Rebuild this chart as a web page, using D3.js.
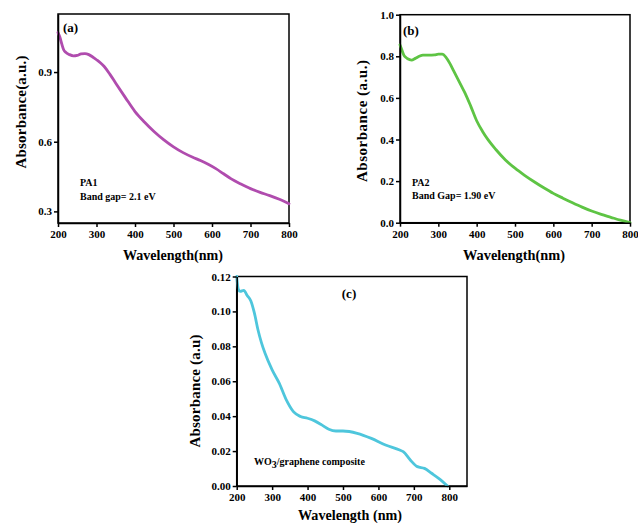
<!DOCTYPE html>
<html><head><meta charset="utf-8">
<script src="https://cdn.jsdelivr.net/npm/d3@7"></script>
<style>
html,body{margin:0;padding:0;background:#fff;}
svg{display:block;font-family:"Liberation Serif","Times New Roman",serif;font-weight:bold;}
</style></head>
<body>
<svg id="chart" width="638" height="523"></svg>
<script>
// ---- Data ----
const wavelengthA = [200,205,210,215,220,230,240,250,260,270,280,290,300,310,320,335,350,375,400,425,450,475,500,525,550,570,590,610,630,650,675,700,725,750,775,800];
const absorbanceA = [1.07,1.05,1.02,0.995,0.985,0.975,0.97,0.972,0.978,0.979,0.975,0.965,0.953,0.94,0.924,0.89,0.852,0.79,0.73,0.684,0.643,0.608,0.578,0.553,0.533,0.519,0.503,0.484,0.462,0.44,0.418,0.398,0.382,0.368,0.352,0.333];

const wavelengthB = [200,205,210,215,220,230,240,250,260,275,290,300,310,320,330,340,350,360,370,385,400,415,430,450,475,500,525,550,575,600,625,650,675,700,725,750,775,800];
const absorbanceB = [0.855,0.83,0.806,0.795,0.788,0.782,0.79,0.8,0.806,0.806,0.807,0.81,0.81,0.795,0.766,0.73,0.694,0.658,0.622,0.558,0.49,0.44,0.398,0.352,0.302,0.262,0.228,0.197,0.168,0.141,0.118,0.096,0.075,0.056,0.04,0.026,0.012,0.0];

const wavelengthC = [200,205,210,220,230,240,250,260,270,280,300,320,340,360,380,400,420,440,460,480,500,540,580,620,660,670,690,710,730,750,770,795];
const absorbanceC = [0.12,0.1124,0.1115,0.112,0.109,0.106,0.099,0.0895,0.082,0.076,0.0665,0.0589,0.0493,0.0426,0.0398,0.0388,0.0373,0.035,0.0325,0.0315,0.0315,0.0302,0.0273,0.0235,0.0206,0.0197,0.0149,0.0111,0.0101,0.0073,0.0044,0.0];

const xTicks = [200,300,400,500,600,700,800];
const yTicksA = [0.3,0.6,0.9];
const yTicksB = [0.0,0.2,0.4,0.6,0.8,1.0];
const yTicksC = [0.00,0.02,0.04,0.06,0.08,0.10,0.12];

const svg = d3.select("#chart");
const FONT = "'Liberation Serif', 'Times New Roman', serif";

function panel(cfg){
  const x = d3.scaleLinear().domain(cfg.xDomain).range([cfg.left, cfg.right]);
  const y = d3.scaleLinear().domain(cfg.yDomain).range([cfg.bottom, cfg.top]);
  const g = svg.append("g").attr("font-family",FONT).attr("font-weight","bold");
  g.append("rect").attr("x",cfg.left).attr("y",cfg.top)
    .attr("width",cfg.right-cfg.left).attr("height",cfg.bottom-cfg.top)
    .attr("fill","none").attr("stroke","#000").attr("stroke-width",1.5);
  const line = d3.line().x((d,i)=>x(cfg.xs[i])).y(d=>y(d)).curve(d3.curveMonotoneX);
  g.append("path").datum(cfg.ys).attr("d",line)
    .attr("fill","none").attr("stroke",cfg.color).attr("stroke-width",2.8)
    .attr("stroke-linejoin","round").attr("stroke-linecap","round");
  const xa = g.append("g").attr("transform",`translate(0,${cfg.bottom})`)
    .call(d3.axisBottom(x).tickValues(xTicks).tickSize(4).tickSizeOuter(0).tickFormat(d3.format("d")));
  const ya = g.append("g").attr("transform",`translate(${cfg.left},0)`)
    .call(d3.axisLeft(y).tickValues(cfg.yTicks).tickSize(4).tickSizeOuter(0).tickFormat(d3.format(cfg.yFmt)));
  [xa,ya].forEach(a=>{
    a.attr("font-family",FONT).attr("font-weight","bold");
    a.select(".domain").attr("stroke","#000").attr("stroke-width",1.5);
    a.selectAll(".tick line").attr("stroke","#000").attr("stroke-width",1.5);
    a.selectAll("text").attr("font-size",11).attr("fill","#000");
  });
  xa.selectAll("text").attr("dy","0.95em").attr("y",5);
  ya.selectAll("text").attr("x",-6);
  g.append("text").attr("x",cfg.xTitle[0]).attr("y",cfg.xTitle[1])
    .attr("text-anchor","middle").attr("dominant-baseline","central")
    .attr("font-size",14.5).attr("textLength",cfg.xTitle[2]).attr("lengthAdjust","spacingAndGlyphs")
    .text(cfg.xLabel);
  g.append("text").attr("transform",`translate(${cfg.yTitle[0]},${cfg.yTitle[1]}) rotate(-90)`)
    .attr("text-anchor","middle").attr("dominant-baseline","central")
    .attr("font-size",15).attr("textLength",cfg.yTitle[2]).attr("lengthAdjust","spacing")
    .text(cfg.yLabel);
  return {g,x,y};
}

const A = panel({xDomain:[200,800], yDomain:[0.25,1.15], left:58, right:289, top:14, bottom:223,
  xs:wavelengthA, ys:absorbanceA, color:"#b04cae", yTicks:yTicksA, yFmt:".1f",
  xLabel:"Wavelength(nm)", xTitle:[173,255,100], yLabel:"Absorbance(a.u.)", yTitle:[21,112,113]});
A.g.append("text").attr("x",63).attr("y",32).attr("font-size",13).text("(a)");
A.g.append("text").attr("x",80).attr("y",186).attr("font-size",10).text("PA1");
A.g.append("text").attr("x",80).attr("y",200).attr("font-size",10).text("Band gap= 2.1 eV");

const B = panel({xDomain:[200,800], yDomain:[0,1], left:400, right:630, top:14.7, bottom:222.7,
  xs:wavelengthB, ys:absorbanceB, color:"#5ec444", yTicks:yTicksB, yFmt:".1f",
  xLabel:"Wavelength(nm)", xTitle:[514,255,102], yLabel:"Absorbance (a.u.)", yTitle:[362,121,122]});
B.g.append("text").attr("x",403).attr("y",35).attr("font-size",13).text("(b)");
B.g.append("text").attr("x",412).attr("y",186).attr("font-size",10).text("PA2");
B.g.append("text").attr("x",412).attr("y",199).attr("font-size",10).text("Band Gap= 1.90 eV");

const C = panel({xDomain:[200,850], yDomain:[0,0.12], left:236.7, right:467, top:276.5, bottom:486,
  xs:wavelengthC, ys:absorbanceC, color:"#4ec6dc", yTicks:yTicksC, yFmt:".2f",
  xLabel:"Wavelength (nm)", xTitle:[350,515,104], yLabel:"Absorbance (a.u)", yTitle:[195,391,113]});
C.g.append("text").attr("x",349).attr("y",293).attr("text-anchor","middle").attr("dominant-baseline","central").attr("font-size",13).text("(c)");
const wo = C.g.append("text").attr("x",254).attr("y",465).attr("font-size",10);
wo.append("tspan").text("WO");
wo.append("tspan").attr("dy",3).text("3");
wo.append("tspan").attr("dy",-3).text("/graphene composite");
</script>
</body></html>
